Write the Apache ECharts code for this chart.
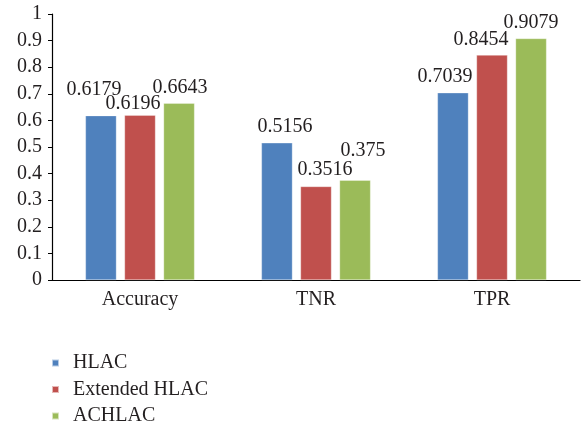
<!DOCTYPE html>
<html>
<head>
<meta charset="utf-8">
<script src="https://cdn.jsdelivr.net/npm/echarts@6/dist/echarts.min.js"></script>
<style>
  html, body { margin: 0; padding: 0; background: #fff; }
  #chart { width: 581px; height: 425px; }
</style>
</head>
<body>
<div id="chart"></div>
<script>
// Classifier scores per metric
const categories = ['Accuracy', 'TNR', 'TPR'];
const seriesNames = ['HLAC', 'Extended HLAC', 'ACHLAC'];
const hlac = [0.6179, 0.5156, 0.7039];
const extendedHlac = [0.6196, 0.3516, 0.8454];
const achlac = [0.6643, 0.375, 0.9079];
const yTicks = [0, 0.1, 0.2, 0.3, 0.4, 0.5, 0.6, 0.7, 0.8, 0.9, 1];

const colors = ['#4f81bd', '#c0504d', '#9bbb59'];
// Nudges that keep neighbouring value labels from colliding
const labelNudges = [
  [[-7, -10], [8, 0], [-8, 0]],
  [[-7, 5], [9, -1], [-11, 1]],
  [[1, 0], [8, -14], [0, 0]]
];
const font = '"Liberation Serif", "DejaVu Serif", serif';
const textColor = '#231f20';
const fontSize = 20;

const values = [hlac, extendedHlac, achlac];
const series = values.map((vals, si) => ({
  name: seriesNames[si],
  type: 'bar',
  barWidth: 31,
  barGap: '26%',
  itemStyle: { color: colors[si], borderColor: 'rgba(255,255,255,0.6)', borderWidth: 0.5 },
  data: vals.map((v, ci) => ({
    value: v,
    label: { offset: labelNudges[si][ci] }
  })),
  label: {
    show: true,
    position: 'top',
    distance: 6,
    fontFamily: font,
    fontSize: fontSize,
    color: textColor,
    formatter: p => String(p.value)
  }
}));

const chart = echarts.init(document.getElementById('chart'));
chart.setOption({
  animation: false,
  backgroundColor: '#fff',
  grid: { left: 52, right: 1, top: 14, bottom: 145 },
  legend: {
    orient: 'vertical',
    left: 51,
    top: 353,
    height: 90,
    padding: 0,
    itemWidth: 7,
    itemHeight: 7,
    itemGap: 6.5,
    icon: 'rect',
    data: seriesNames,
    textStyle: {
      fontFamily: font,
      fontSize: fontSize,
      lineHeight: 20,
      color: textColor,
      padding: [0, 0, 0, 9]
    }
  },
  xAxis: {
    type: 'category',
    data: categories,
    axisLine: { lineStyle: { color: '#000', width: 1.2 } },
    axisTick: { show: false },
    axisLabel: { fontFamily: font, fontSize: fontSize, color: textColor, margin: 10 }
  },
  yAxis: {
    type: 'value',
    min: yTicks[0],
    max: yTicks[yTicks.length - 1],
    interval: yTicks[1] - yTicks[0],
    splitLine: { show: false },
    axisLine: { show: true, lineStyle: { color: '#000', width: 1.2 } },
    axisTick: { show: true, length: 4, lineStyle: { color: '#000' } },
    axisLabel: {
      fontFamily: font,
      fontSize: fontSize,
      color: textColor,
      margin: 10,
      formatter: v => String(Math.round(v * 10) / 10)
    }
  },
  series: series
});
</script>
</body>
</html>
